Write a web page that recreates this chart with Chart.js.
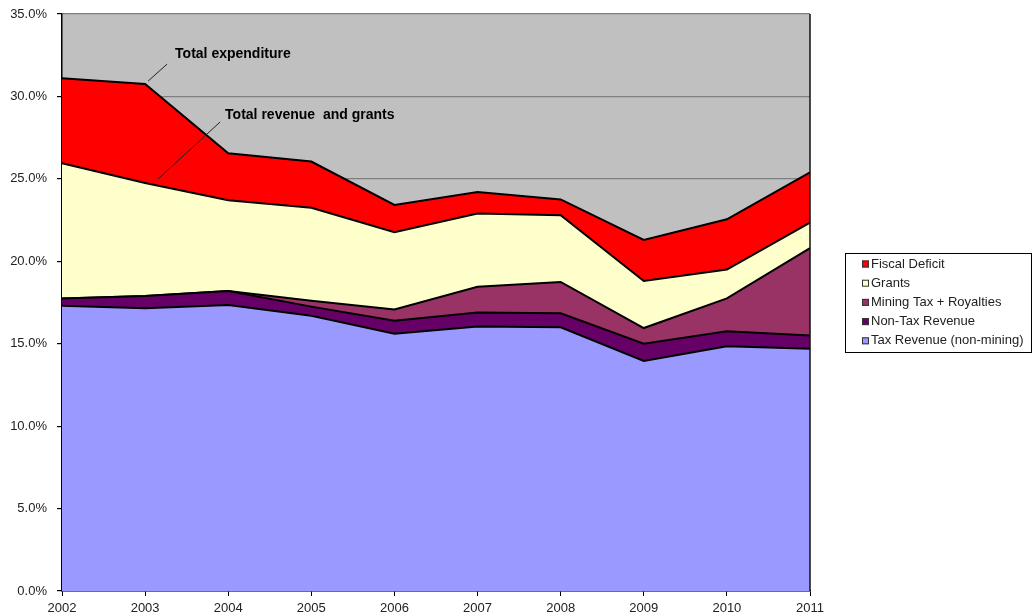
<!DOCTYPE html>
<html>
<head>
<meta charset="utf-8">
<script src="https://cdn.jsdelivr.net/npm/chart.js@4/dist/chart.umd.min.js"></script>
<style>
  body { margin: 0; background: #fff; }
  #wrap { width: 1033px; height: 616px; }
</style>
</head>
<body>
<div id="wrap"><canvas id="fiscalChart" width="1033" height="616"></canvas></div>
<script>
// years on the x axis
var years = ["2002","2003","2004","2005","2006","2007","2008","2009","2010","2011"];

// % of GDP, stacked bottom to top
var taxRevenue   = [17.3, 17.15, 17.35, 16.7, 15.6, 16.05, 16.0, 13.95, 14.85, 14.7];
var nonTaxRev    = [0.45, 0.75, 0.85, 0.55, 0.8, 0.85, 0.85, 1.05, 0.9, 0.8];
var miningTax    = [0, 0, 0, 0.35, 0.67, 1.55, 1.9, 0.95, 2.0, 5.3];
var grants       = [8.2, 6.85, 5.5, 5.65, 4.69, 4.45, 4.05, 2.85, 1.75, 1.55];
var fiscalDef    = [5.15, 6.0, 2.85, 2.8, 1.66, 1.3, 0.95, 2.5, 3.05, 3.05];

var yTicks = [0, 5, 10, 15, 20, 25, 30, 35];

var FONT = "'Liberation Sans', Arial, sans-serif";

function mkSet(label, data, color, fill){
  return {
    label: label,
    data: data,
    backgroundColor: color,
    borderColor: "#000",
    borderWidth: 2,
    fill: fill,
    pointRadius: 0,
    pointHoverRadius: 0,
    tension: 0
  };
}

var plotBg = {
  id: "plotBg",
  beforeDraw: function(chart){
    var a = chart.chartArea, ctx = chart.ctx;
    ctx.save();
    ctx.fillStyle = "#c0c0c0";
    ctx.fillRect(a.left, a.top, a.right - a.left, a.bottom - a.top);
    ctx.restore();
  },
  afterDatasetsDraw: function(chart){
    var a = chart.chartArea, ctx = chart.ctx;
    var xs = chart.scales.x, ys = chart.scales.y;
    ctx.save();
    // right edge of plot
    ctx.strokeStyle = "#111";
    ctx.lineWidth = 1.5;
    ctx.beginPath();
    ctx.moveTo(a.right, a.top);
    ctx.lineTo(a.right, a.bottom);
    ctx.stroke();

    // callouts anchored to the 2003 totals
    var i = 1;
    var totExp = taxRevenue[i] + nonTaxRev[i] + miningTax[i] + grants[i] + fiscalDef[i];
    var totRev = totExp - fiscalDef[i];
    var px = xs.getPixelForValue(i);
    var pe = ys.getPixelForValue(totExp);
    var pr = ys.getPixelForValue(totRev);

    ctx.strokeStyle = "#222";
    ctx.lineWidth = 1;
    ctx.beginPath();
    ctx.moveTo(px + 3, pe - 3);
    ctx.lineTo(px + 22, pe - 20);
    ctx.moveTo(px + 13, pr - 4);
    ctx.lineTo(px + 75, pr - 61);
    ctx.stroke();

    ctx.fillStyle = "#000";
    ctx.font = "bold 14px " + FONT;
    ctx.textBaseline = "middle";
    ctx.fillText("Total expenditure", px + 30, pe - 30);
    ctx.fillText("Total revenue  and grants", px + 80, pr - 68);
    ctx.restore();
  },
  afterDraw: function(chart){
    // boxed legend on the right, top series first
    var ctx = chart.ctx;
    var sets = chart.data.datasets.slice().reverse();
    var bx = 845, by = 253, bw = 186, bh = 99;
    ctx.save();
    ctx.fillStyle = "#fff";
    ctx.fillRect(bx, by, bw, bh);
    ctx.strokeStyle = "#000";
    ctx.lineWidth = 1;
    ctx.strokeRect(bx + 0.5, by + 0.5, bw, bh);
    ctx.font = "13px " + FONT;
    ctx.textBaseline = "middle";
    sets.forEach(function(s, k){
      var cy = by + 11 + k * 19.2;
      ctx.fillStyle = s.backgroundColor;
      ctx.fillRect(862, cy - 3.5, 7, 7);
      ctx.strokeStyle = "#333";
      ctx.strokeRect(862.5, cy - 3, 6, 6);
      ctx.fillStyle = "#222";
      ctx.fillText(s.label, 871, cy);
    });
    ctx.restore();
  }
};

var ctx = document.getElementById("fiscalChart");
var chart = new Chart(ctx, {
  type: "line",
  data: {
    labels: years,
    datasets: [
      mkSet("Tax Revenue (non-mining)", taxRevenue, "#9999ff", "origin"),
      mkSet("Non-Tax Revenue", nonTaxRev, "#660066", "-1"),
      mkSet("Mining Tax + Royalties", miningTax, "#993366", "-1"),
      mkSet("Grants", grants, "#ffffcc", "-1"),
      mkSet("Fiscal Deficit", fiscalDef, "#ff0000", "-1")
    ]
  },
  options: {
    responsive: false,
    animation: false,
    layout: { padding: { top: 14, right: 223, left: 0, bottom: 0 } },
    plugins: {
      legend: { display: false },
      tooltip: { enabled: false }
    },
    scales: {
      x: {
        offset: false,
        grid: { drawOnChartArea: false, drawTicks: true, tickLength: 5, tickColor: "#000" },
        border: { color: "#000", width: 1.5 },
        ticks: { color: "#222", font: { family: FONT, size: 13 }, padding: 5, maxRotation: 0, autoSkip: false },
        afterFit: function(s){ s.height = 25; }
      },
      y: {
        stacked: true,
        min: 0,
        max: 35,
        afterBuildTicks: function(s){ s.ticks = yTicks.map(function(v){ return { value: v }; }); },
        grid: { color: "#7f7f7f", lineWidth: 1.2, tickLength: 5, tickColor: "#000" },
        border: { color: "#000", width: 1.5 },
        ticks: {
          color: "#222",
          font: { family: FONT, size: 13 },
          padding: 10,
          callback: function(v){ return v.toFixed(1) + "%"; }
        },
        afterFit: function(s){ s.width = 62; s.paddingTop = 0; s.paddingBottom = 0; }
      }
    }
  },
  plugins: [plotBg]
});
</script>
</body>
</html>
